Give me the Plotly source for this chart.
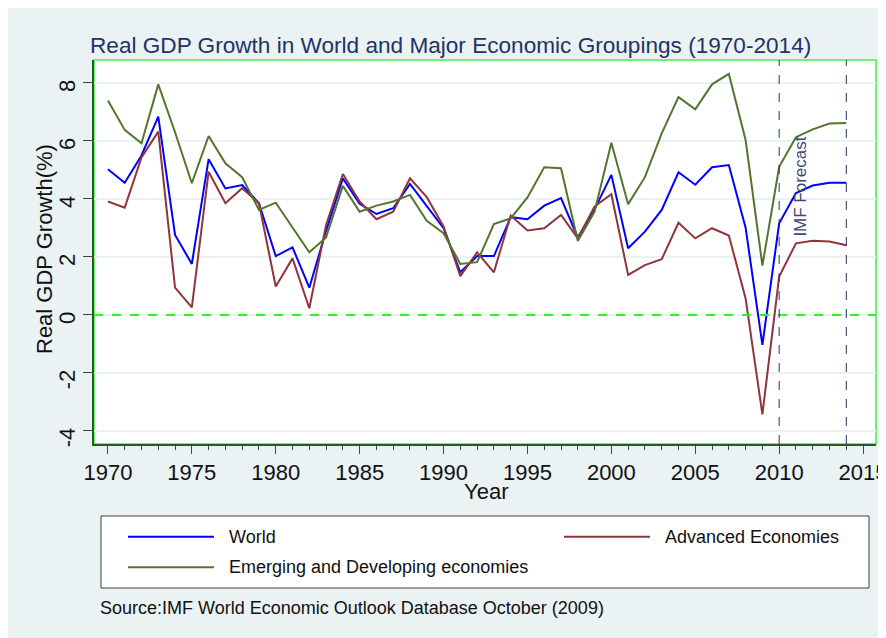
import plotly.graph_objects as go

years = list(range(1970, 2015))
world = [5.02, 4.56, 5.5, 6.84, 2.76, 1.76, 5.37, 4.36, 4.48, 3.85,
         2.03, 2.33, 0.94, 2.9, 4.71, 3.83, 3.48, 3.68, 4.52, 3.74,
         2.99, 1.47, 2.03, 2.03, 3.37, 3.30, 3.77, 4.03, 2.67, 3.64,
         4.83, 2.30, 2.87, 3.62, 4.92, 4.49, 5.09, 5.17, 3.01, -1.03,
         3.16, 4.20, 4.46, 4.56, 4.56]
advanced = [3.91, 3.70, 5.43, 6.32, 0.94, 0.26, 4.94, 3.85, 4.37, 3.85,
            0.98, 1.95, 0.23, 3.1, 4.86, 3.91, 3.30, 3.56, 4.71, 4.06,
            3.05, 1.34, 2.16, 1.47, 3.43, 2.91, 2.99, 3.45, 2.64, 3.74,
            4.16, 1.38, 1.72, 1.92, 3.18, 2.64, 2.99, 2.74, 0.57, -3.43,
            1.32, 2.47, 2.56, 2.53, 2.40]
emerging = [7.39, 6.38, 5.92, 7.95, 6.3, 4.54, 6.17, 5.23, 4.75, 3.62,
            3.87, 3.0, 2.16, 2.67, 4.45, 3.56, 3.77, 3.91, 4.14, 3.25,
            2.82, 1.76, 1.82, 3.13, 3.33, 4.05, 5.09, 5.06, 2.55, 3.56,
            5.94, 3.82, 4.75, 6.26, 7.51, 7.09, 7.95, 8.31, 6.03, 1.70,
            5.11, 6.13, 6.40, 6.60, 6.62]
names = ["World", "Advanced Economies", "Emerging and Developing economies"]
forecast_years = [2010, 2014]
x_ticks = list(range(1970, 2016, 5))
y_ticks = [-4, -2, 0, 2, 4, 6, 8]
y_ticktext = ["-4", "-2", "0", "2", "4", "6", "8"]

blue = "#0000ff"
maroon = "#90353b"
forest = "#55752f"
navy = "#1f3366"
bg = "#eaf2f3"
font = "Liberation Sans, Arial, sans-serif"

# the page body adds an 8px margin, so the figure is a bit smaller than the window
OFF = 8
W, H = 886 - OFF, 638 - OFF
# plot area in window pixels
PL, PT, PW, PH = 94, 60, 782, 384


def px(x):
    return (x - PL) / PW


def py(y):
    return (PT + PH - y) / PH


fig = go.Figure()
for name, vals, col in zip(names, [world, advanced, emerging], [blue, maroon, forest]):
    fig.add_trace(
        go.Scatter(x=years, y=vals, mode="lines", name=name,
                   line=dict(color=col, width=2))
    )

# zero line
fig.add_hline(y=0, line=dict(color="#33ee33", width=2, dash="dash"))
# forecast markers
for yr in forecast_years:
    fig.add_vline(x=yr, line=dict(color=navy, width=1, dash="dash"))

fig.add_annotation(x=forecast_years[0], y=4.43, text="IMF Forecast", textangle=-90,
                   showarrow=False, xshift=21, font=dict(size=17, color="#3a4a75", family=font))

# plot region border
fig.add_shape(type="rect", xref="paper", yref="paper", x0=0, y0=0, x1=1, y1=1,
              line=dict(color="#44ee44", width=1.5), layer="below")

# axis titles
fig.add_annotation(xref="paper", yref="paper", x=px(44), y=py(249),
                   text="Real GDP Growth(%)", textangle=-90, showarrow=False,
                   xanchor="center", yanchor="middle",
                   font=dict(size=22, color="#111111", family=font))
fig.add_annotation(xref="paper", yref="paper", x=px(486), y=py(491),
                   text="Year", showarrow=False, xanchor="center", yanchor="middle",
                   font=dict(size=22, color="#111111", family=font))

# legend box drawn by hand
fig.add_shape(type="rect", xref="paper", yref="paper",
              x0=px(101), x1=px(869), y0=py(516), y1=py(588),
              line=dict(color="#404040", width=1), fillcolor="white")
leg = [(128, 536.7, blue, names[0]), (564, 536.7, maroon, names[1]), (128, 567.3, forest, names[2])]
for lx, ly, col, txt in leg:
    fig.add_shape(type="line", xref="paper", yref="paper",
                  x0=px(lx), x1=px(lx + 86), y0=py(ly), y1=py(ly),
                  line=dict(color=col, width=2))
    fig.add_annotation(xref="paper", yref="paper", x=px(lx + 99), y=py(ly),
                       text=txt, showarrow=False, xanchor="left", yanchor="middle",
                       font=dict(size=18, color="#111111", family=font))

fig.add_annotation(xref="paper", yref="paper", x=px(98), y=py(608),
                   text="Source:IMF World Economic Outlook Database October (2009)",
                   showarrow=False, xanchor="left", yanchor="middle",
                   font=dict(size=18, color="#111111", family=font))

fig.update_layout(
    width=W,
    height=H,
    margin=dict(l=PL - OFF, r=W - (PL - OFF) - PW, t=PT - OFF, b=H - (PT - OFF) - PH,
                autoexpand=False),
    paper_bgcolor=bg,
    plot_bgcolor="white",
    showlegend=False,
    font=dict(family=font, color="#111111"),
    title=dict(
        text="Real GDP Growth in World and Major Economic Groupings (1970-2014)",
        x=(90 - OFF) / W, xanchor="left", y=1 - (45 - OFF) / H, yanchor="middle",
        font=dict(size=22.6, color=navy, family=font),
    ),
    xaxis=dict(
        range=[1969.17, 2015.77],
        tickvals=x_ticks,
        ticks="outside", ticklen=8, tickcolor="#444444",
        minor=dict(dtick=1, ticks="outside", ticklen=4, tickcolor="#444444"),
        showgrid=False, zeroline=False, automargin=False,
        ticklabeloverflow="allow",
        showline=True, linecolor="#1f5f1f", linewidth=1.5,
        tickfont=dict(size=22, color="#111111"),
    ),
    yaxis=dict(
        range=[-4.45, 8.79],
        tickvals=y_ticks, ticktext=y_ticktext,
        tickangle=-89.9, ticklabelstandoff=15,
        ticks="outside", ticklen=9, tickcolor="#444444",
        showgrid=True, gridcolor=bg, gridwidth=1.5, zeroline=False, automargin=False,
        showline=True, linecolor="#1f5f1f", linewidth=1.5,
        tickfont=dict(size=22, color="#111111"),
    ),
)

fig.write_html("out.html")
